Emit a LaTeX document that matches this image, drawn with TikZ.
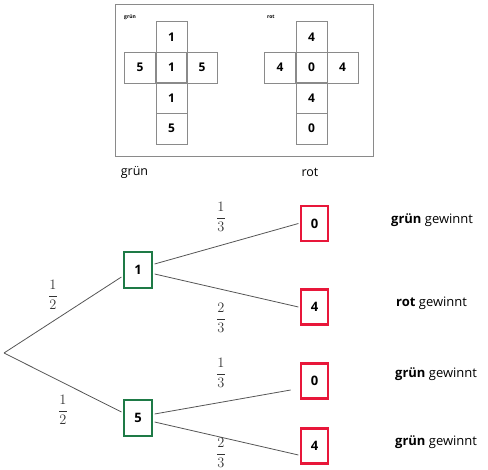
\documentclass[tikz,border=0pt]{standalone}
\usepackage{fontspec}
\setmainfont{Open Sans}
\usetikzlibrary{calc}
\definecolor{boxgreen}{HTML}{1E7A46}
\definecolor{boxred}{HTML}{E8173A}
\definecolor{cellgray}{HTML}{8A8A8A}
\definecolor{linegray}{HTML}{555555}
\tikzset{
  cell/.style={draw=cellgray, line width=0.9pt, minimum width=31pt, minimum height=31pt, inner sep=0pt, font=\fontsize{12}{14}\selectfont\bfseries},
  greenbox/.style={draw=boxgreen, line width=2.6pt, minimum width=28pt, minimum height=36pt, inner sep=0pt, font=\fontsize{13}{15}\selectfont\bfseries},
  redbox/.style={draw=boxred, line width=2.6pt, minimum width=27pt, minimum height=35pt, inner sep=0pt, font=\fontsize{13}{15}\selectfont\bfseries},
  branch/.style={draw=linegray, line width=0.8pt},
  prob/.style={inner sep=0pt, text=black!80, font=\fontsize{14}{16}\selectfont},
  result/.style={anchor=west, inner sep=0pt, font=\fontsize{13}{15}\selectfont},
  caption/.style={inner sep=0pt, font=\fontsize{12.5}{14}\selectfont},
  tiny/.style={anchor=west, inner sep=0pt, font=\fontsize{5}{6}\selectfont\bfseries}
}
\begin{document}
\begin{tikzpicture}[x=1pt,y=-1pt]
\useasboundingbox (0,0) rectangle (488,470);
% frame
\draw[draw=cellgray, line width=1pt] (115,5) rectangle (373,157);
\node[tiny] (tg) at (124,17) {grün};
\node[tiny] (tr) at (267,17) {rot};
% green cross
\node[cell] (g1) at (171.5,37) {1};
\node[cell] (g2) at (140,67.5) {5};
\node[cell] (g3) at (171.5,67.5) {1};
\node[cell] (g4) at (202,67.5) {5};
\node[cell] (g5) at (171.5,98) {1};
\node[cell] (g6) at (171.5,128.5) {5};
% red cross
\node[cell] (r01) at (311.5,37) {4};
\node[cell] (r02) at (280,67.5) {4};
\node[cell] (r03) at (311.5,67.5) {0};
\node[cell] (r04) at (342.5,67.5) {4};
\node[cell] (r05) at (311.5,98) {4};
\node[cell] (r06) at (311.5,128.5) {0};
% captions
\node[caption] (cg) at (134.5,172) {grün};
\node[caption] (cr) at (310,172) {rot};
% tree
\coordinate (root) at (4,353);
\node[greenbox] (n1) at (138,270) {1};
\node[greenbox] (n5) at (138,418) {5};
\node[redbox] (a1) at (314.5,223.5) {0};
\node[redbox] (a2) at (314.5,307) {4};
\node[redbox] (a3) at (314.5,381) {0};
\node[redbox] (a4) at (314.5,446) {4};
\draw[branch] (root) -- ($(n1.west)+(-1.3,7)$);
\draw[branch] (root) -- ($(n5.west)+(-1.3,-6)$);
\draw[branch] ($(n1.east)+(1.3,-6)$) -- ($(a1.west)+(-1.3,0)$);
\draw[branch] ($(n1.east)+(1.3,4)$) -- ($(a2.west)+(-1.3,0)$);
\draw[branch] ($(n5.east)+(1.3,-4)$) -- ($(a3.west)+(-9,9)$);
\draw[branch] ($(n5.east)+(1.3,4)$) -- ($(a4.west)+(-1.3,9)$);
% probabilities
\node[prob] (p1) at (53,295) {$\displaystyle\frac{1}{2}$};
\node[prob] (p2) at (63,410) {$\displaystyle\frac{1}{2}$};
\node[prob] (p3) at (221,217) {$\displaystyle\frac{1}{3}$};
\node[prob] (p4) at (221,318) {$\displaystyle\frac{2}{3}$};
\node[prob] (p5) at (221,373) {$\displaystyle\frac{1}{3}$};
\node[prob] (p6) at (221,453) {$\displaystyle\frac{2}{3}$};
% results
\node[result] (e1) at (391,220) {\textbf{grün} gewinnt};
\node[result] (e2) at (396,303) {\textbf{rot} gewinnt};
\node[result] (e3) at (395,374) {\textbf{grün} gewinnt};
\node[result] (e4) at (395,442) {\textbf{grün} gewinnt};
\end{tikzpicture}
\end{document}
